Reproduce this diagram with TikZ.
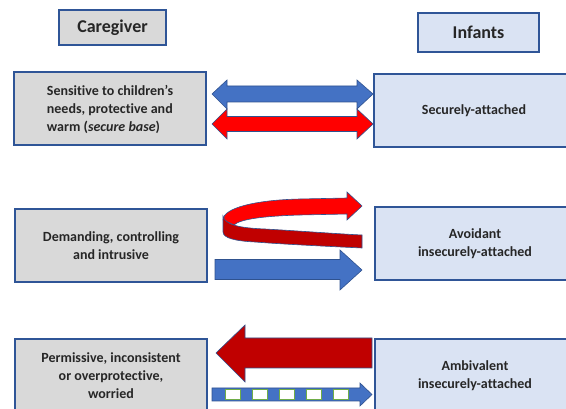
\documentclass[tikz,border=0pt]{standalone}
\usepackage{fontspec}
\setmainfont[Ligatures={TeX,NoCommon}]{Carlito}
\usepackage{tikz}
\usetikzlibrary{positioning,calc}

\definecolor{boxline}{HTML}{2F5597}
\definecolor{carerfill}{HTML}{D9D9D9}
\definecolor{infantfill}{HTML}{DAE3F3}
\definecolor{arrowblue}{HTML}{4472C4}
\definecolor{arrowred}{HTML}{FF0000}
\definecolor{darkred}{HTML}{C00000}
\definecolor{edgeblue}{HTML}{2F528F}
\definecolor{squaregreen}{HTML}{70AD47}
\definecolor{txt}{HTML}{262626}

\begin{document}
\begin{tikzpicture}[x=1pt, y=-1pt,
  carer/.style={draw=boxline, line width=2pt, fill=carerfill, rectangle, minimum width=192pt, minimum height=73pt, align=center, text=txt, font=\bfseries\fontsize{14}{18}\selectfont},
  infant/.style={carer, fill=infantfill, minimum width=200pt},
  header/.style={carer, minimum height=35pt, font=\bfseries\fontsize{18}{22}\selectfont},
  bluearrow/.style={fill=arrowblue, draw=edgeblue, line width=0.6pt, line join=miter},
  redarrow/.style={bluearrow, fill=arrowred},
  darkarrow/.style={bluearrow, fill=darkred},
  gap/.style={fill=white, draw=squaregreen, line width=0.8pt}]
\useasboundingbox (0,0) rectangle (566,409);
\clip (0,0) rectangle (566,409);

% headers
\node[header, minimum width=107pt] (caregiver) at (112.5,27.5) {Caregiver};
\node[header, fill=infantfill, minimum width=121pt, minimum height=39pt] (infants) at (478.5,32.5) {Infants};

% caregiver side
\node[carer, align=left] (secure) at (110,109) {Sensitive to children’s\\needs, protective and\\warm (\textit{secure base})};
\node[carer] (demanding) at (111,245.5) {Demanding, controlling\\and intrusive};
\node[carer] (permissive) at (111,375.5) {Permissive, inconsistent\\or overprotective,\\worried};

% infant side
\node[infant] (secureinf) at (474,110.5) {Securely-attached};
\node[infant] (avoidant) at (475,244) {Avoidant\\insecurely-attached};
\node[infant] (ambivalent) at (475,376) {Ambivalent\\insecurely-attached};

% secure: two double arrows
\draw[bluearrow] (212,94) -- (227,80) -- (227,86) -- (357,86) -- (357,80) -- (373,94)
  -- (357,109) -- (357,102) -- (227,102) -- (227,109) -- cycle;
\draw[redarrow] (212,124) -- (227,109) -- (227,116.5) -- (357,116.5) -- (357,109) -- (373,124)
  -- (357,139) -- (357,131.5) -- (227,131.5) -- (227,139) -- cycle;

% avoidant: curled arrow and straight arrow
\draw[redarrow] (223,220) .. controls (223,208) and (255,200) .. (300,199) -- (347,198)
  -- (347,192) -- (362,206) -- (347,220) -- (347,214) -- (300,215)
  .. controls (265,216) and (240,219) .. (234,225) -- cycle;
\draw[darkarrow] (223,216) .. controls (225,225) and (240,228) .. (265,229)
  .. controls (300,231) and (340,234) .. (362,235) -- (362,248)
  .. controls (320,246) and (280,244) .. (255,242)
  .. controls (235,241) and (223,238) .. (223,232) -- cycle;
\draw[bluearrow] (215,259.5) -- (340,259.5) -- (340,250) -- (362,270) -- (340,290)
  -- (340,279.5) -- (215,279.5) -- cycle;

% ambivalent: big arrow back, broken arrow forward
\draw[darkarrow] (216,353) -- (245,325) -- (245,338) -- (372,338) -- (372,368)
  -- (245,368) -- (245,382) -- cycle;
\draw[bluearrow] (212,388) -- (360,388) -- (360,383) -- (372,394.5) -- (360,406)
  -- (360,401) -- (212,401) -- cycle;
\foreach \i in {0,...,4}
  \draw[gap] (225+27*\i,389.5) rectangle ++(15,10);
\end{tikzpicture}
\end{document}
